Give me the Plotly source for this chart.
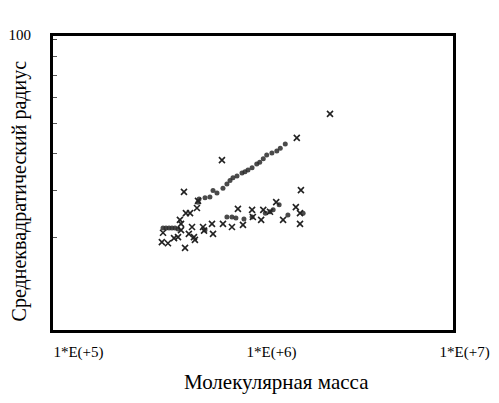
import plotly.graph_objects as go

# molecular mass / rms radius
cross_mass = [2.66e6, 1.79e6, 7.33e5, 4.66e5, 1.88e6, 5.51e5, 4.77e5, 5.01e5,
              5.44e5, 8.87e5, 1.05e6, 1.20e6, 1.30e6, 1.40e6, 1.77e6, 1.86e6,
              4.44e5, 4.50e5, 1.06e6, 1.17e6, 1.52e6, 1.86e6, 5.13e5, 5.85e5,
              6.51e5, 7.42e5, 8.26e5, 9.42e5, 4.50e5, 3.63e5, 4.94e5, 5.25e5,
              6.59e5, 5.92e5, 4.14e5, 4.34e5, 3.58e5, 3.85e5, 4.72e5, 5.31e5]
cross_radius = [63.5, 54.9, 48.0, 39.6, 40.0, 37.5, 34.8, 34.8,
                35.9, 35.7, 35.5, 35.5, 35.1, 37.2, 36.1, 34.8,
                33.4, 32.6, 34.0, 33.4, 33.4, 32.6, 32.0, 32.0,
                32.6, 32.6, 32.0, 32.4, 31.4, 30.9, 30.7, 30.1,
                30.7, 31.3, 29.9, 30.1, 29.2, 29.0, 28.2, 29.6]

upper_mass = [3.63e5, 3.76e5, 3.90e5, 4.04e5, 4.19e5, 4.34e5,
              5.51e5, 5.58e5, 5.99e5, 6.35e5, 6.59e5, 6.91e5, 7.42e5, 7.78e5,
              8.07e5, 8.36e5, 8.77e5, 9.31e5, 9.65e5, 1.00e6, 1.05e6, 1.11e6,
              1.15e6, 1.20e6, 1.25e6, 1.33e6, 1.41e6, 1.47e6, 1.56e6]
upper_radius = [31.8, 31.8, 31.8, 31.8, 31.8, 31.6,
                37.2, 37.9, 38.2, 38.4, 39.9, 39.3, 40.5, 41.5,
                42.4, 43.1, 43.6, 44.4, 44.7, 45.2, 45.8, 46.9,
                47.4, 48.4, 49.5, 50.1, 50.7, 51.6, 52.9]

lower_mass = [5.99e5, 7.78e5, 8.26e5, 8.66e5, 9.53e5, 1.05e6, 1.23e6,
              1.30e6, 1.35e6, 1.45e6, 1.61e6, 1.93e6]
lower_radius = [31.4, 34.0, 34.0, 33.8, 33.6, 34.0, 34.8,
                35.1, 35.5, 36.6, 34.4, 34.8]

x_ticks = [1e5, 1e6, 1e7]
x_tick_text = ["1*E(+5)", "1*E(+6)", "1*E(+7)"]
y_ticks = [100]
y_tick_text = ["100"]
y_minor = [30, 40, 50, 60, 70, 80, 90]

font_name = "Liberation Serif, Times New Roman, serif"
dot_color = "#2a2a2a"

fig = go.Figure()
for m, r in [(upper_mass, upper_radius), (lower_mass, lower_radius)]:
    fig.add_trace(go.Scatter(
        x=m, y=r, mode="markers",
        marker=dict(symbol="circle", size=5, color=dot_color, opacity=0.85,
                    line=dict(width=0)),
        showlegend=False))
fig.add_trace(go.Scatter(
    x=cross_mass, y=cross_radius, mode="markers",
    marker=dict(symbol="x-thin", size=6, color="#222222",
                line=dict(width=1.6, color="#222222")),
    showlegend=False))

fig.update_xaxes(
    type="log", range=[4.99, 7.062], automargin=False,
    tickvals=x_ticks, ticktext=x_tick_text, ticks="",
    ticklabelposition="outside right", ticklabelstandoff=6, ticklabelshift=-3,
    tickfont=dict(family=font_name, size=15, color="black"),
    showgrid=False, zeroline=False,
    showline=True, linewidth=3, linecolor="black", mirror=True)
fig.update_yaxes(
    type="log", range=[1.234, 2.0079], automargin=False,
    tickvals=y_ticks, ticktext=y_tick_text,
    ticks="inside", ticklen=4, tickcolor="#444444",
    ticklabelstandoff=16, ticklabelshift=-4,
    minor=dict(tickmode="array", tickvals=y_minor, ticks="inside", ticklen=4,
               tickcolor="#555555"),
    tickfont=dict(family=font_name, size=15, color="black"),
    showgrid=False, zeroline=False,
    showline=True, linewidth=3, linecolor="black", mirror=True)

fig.add_annotation(text="Среднеквадратический радиус", xref="paper", yref="paper",
                   x=-0.083, y=0.474, textangle=-90, showarrow=False,
                   xanchor="center", yanchor="middle",
                   font=dict(family=font_name, size=20, color="black"))
fig.add_annotation(text="Молекулярная масса", xref="paper", yref="paper",
                   x=0.5575, y=-0.177, showarrow=False,
                   xanchor="center", yanchor="middle",
                   font=dict(family=font_name, size=21, color="black"))

# page body has an 8px margin, so the figure is 8px smaller than the window
fig.update_layout(
    width=491, height=395,
    margin=dict(l=45, r=46, t=28, b=73),
    paper_bgcolor="white", plot_bgcolor="white",
    font=dict(family=font_name, color="black"))

fig.write_html("out.html")
